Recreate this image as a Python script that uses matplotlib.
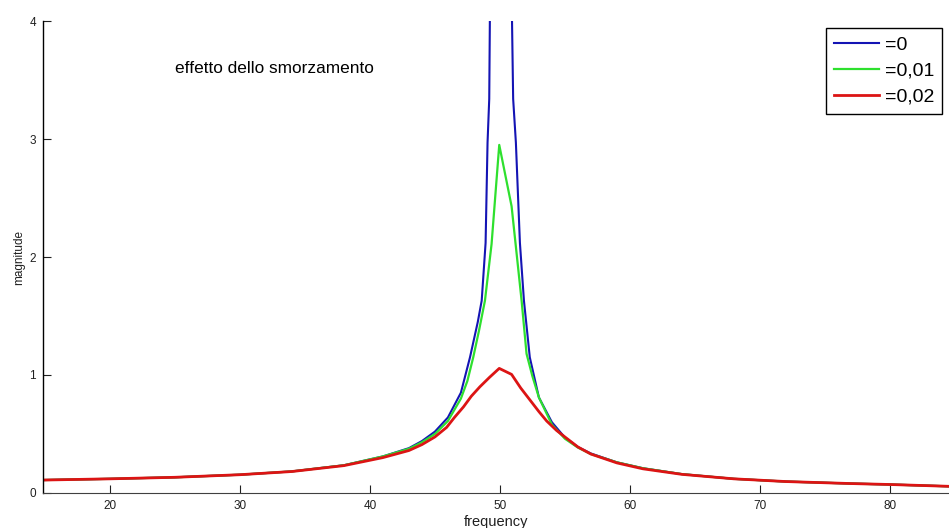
"""
Smorzamento e risonanza.

Disegna il modulo della risposta in frequenza di un oscillatore
per tre valori di smorzamento e salva il grafico in out.png.
"""
import numpy as np
import matplotlib

matplotlib.use("Agg")
import matplotlib.pyplot as plt

# frequenze e moduli letti per ciascuna curva
freq_zero = [15, 20, 25, 30, 34, 38, 41, 43, 44, 45, 46, 47, 47.7, 48.3, 48.6,
             48.9, 49.05, 49.18, 49.3, 50, 50.8, 51.02, 51.23, 51.54, 51.85,
             52.3, 53, 54, 55, 56, 57, 59, 61, 64, 68, 72, 77, 80, 85]
mag_zero = [0.11, 0.12, 0.133, 0.155, 0.183, 0.235, 0.31, 0.38, 0.44, 0.52,
            0.64, 0.85, 1.15, 1.45, 1.63, 2.12, 2.97, 3.34, 5.0, np.nan, 5.0,
            3.34, 2.97, 2.12, 1.63, 1.15, 0.81, 0.60, 0.47, 0.39, 0.335, 0.26,
            0.21, 0.16, 0.12, 0.097, 0.08, 0.072, 0.055]

freq_001 = [15, 20, 25, 30, 34, 38, 41, 43, 44, 45, 46, 47, 47.5, 47.95, 48.4,
            48.85, 49.36, 49.95, 50.9, 51.67, 52.05, 52.5, 53, 54, 55, 56, 57,
            59, 61, 64, 68, 72, 77, 80, 85]
mag_001 = [0.11, 0.12, 0.133, 0.155, 0.183, 0.235, 0.31, 0.375, 0.43, 0.5,
           0.61, 0.80, 0.95, 1.15, 1.38, 1.63, 2.11, 2.95, 2.43, 1.63, 1.18,
           0.99, 0.81, 0.58, 0.46, 0.385, 0.33, 0.26, 0.21, 0.16, 0.12, 0.097,
           0.08, 0.072, 0.055]

freq_002 = [15, 20, 25, 30, 34, 38, 41, 43, 44, 45, 45.9, 46.5, 47.2, 47.8,
            48.46, 49.2, 49.95, 50.9, 51.6, 52.3, 53, 53.6, 54.36, 55, 56, 57,
            59, 61, 64, 68, 72, 77, 80, 85]
mag_002 = [0.11, 0.12, 0.133, 0.155, 0.182, 0.232, 0.30, 0.36, 0.41, 0.475,
           0.556, 0.64, 0.73, 0.82, 0.90, 0.98, 1.056, 1.005, 0.89, 0.79, 0.69,
           0.61, 0.53, 0.475, 0.39, 0.33, 0.255, 0.205, 0.158, 0.12, 0.097,
           0.08, 0.072, 0.055]

legend_labels = ["=0", "=0,01", "=0,02"]
line_colors = ["#1414b4", "#2ee02e", "#dc1414"]

x_ticks = [20, 30, 40, 50, 60, 70, 80]
y_ticks = [0, 1, 2, 3, 4]

FONT = "Liberation Sans"


def draw_curves(ax) -> None:
    """
    Le tre curve: prima quella senza smorzamento, la rossa resta sopra.
    """
    series = [
        (freq_zero, mag_zero, 1.5),
        (freq_001, mag_001, 1.6),
        (freq_002, mag_002, 2.0),
    ]
    for (freq, mag, lw), label, color in zip(series, legend_labels, line_colors):
        ax.plot(freq, mag, color=color, linewidth=lw, label=label,
                solid_joinstyle="round")


def style_axes(ax) -> None:
    """
    Assi in stile semplice: solo sinistro e inferiore, tacche verso l'interno.
    """
    ax.set_xlim(14.85, 84.55)
    ax.set_ylim(0, 4)
    ax.set_xticks(x_ticks)
    ax.set_yticks(y_ticks)

    ax.spines["top"].set_visible(False)
    ax.spines["right"].set_visible(False)
    ax.spines["left"].set_linewidth(1.0)
    ax.spines["bottom"].set_linewidth(0.8)
    ax.spines["bottom"].set_color("#404040")

    ax.tick_params(axis="both", direction="in", length=6, width=0.8,
                   labelsize=8.5, colors="#202020")
    ax.tick_params(axis="x", pad=5)
    ax.tick_params(axis="y", pad=5)
    for lab in ax.get_xticklabels() + ax.get_yticklabels():
        lab.set_fontfamily(FONT)

    ax.set_xlabel("frequency", fontsize=10.5, family=FONT, labelpad=2,
                  color="#202020")
    ax.set_ylabel("magnitude", fontsize=8.5, family=FONT, labelpad=3,
                  color="#202020")


def run() -> None:
    fig = plt.figure(figsize=(9.49, 5.28), dpi=100)
    ax = fig.add_axes([0.0453, 0.0663, 0.9547, 0.8939])

    draw_curves(ax)
    style_axes(ax)

    ax.text(25.0, 3.56, "effetto dello smorzamento", fontsize=12.4,
            family=FONT, va="baseline", ha="left")

    leg = ax.legend(loc="upper left", bbox_to_anchor=(826 / 949, 1 - 28 / 528),
                    bbox_transform=fig.transFigure, borderaxespad=0,
                    prop={"family": FONT, "size": 14}, handlelength=2.3,
                    handletextpad=0.3, labelspacing=0.42, borderpad=0.42,
                    fancybox=False, framealpha=1)
    leg.get_frame().set_edgecolor("black")
    leg.get_frame().set_linewidth(1.0)

    fig.savefig("out.png", dpi=100, facecolor="white")
    plt.close(fig)


if __name__ == "__main__":
    run()
